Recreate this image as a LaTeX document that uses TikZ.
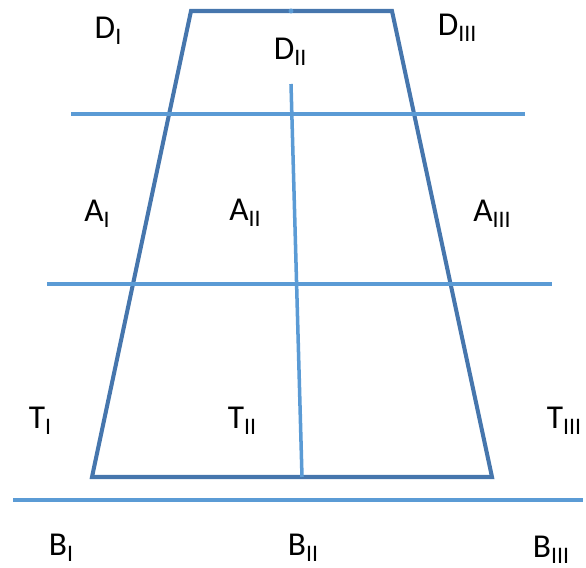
\documentclass[tikz,border=0pt]{standalone}
\usepackage{fontspec}
\setmainfont{Carlito}
\usetikzlibrary{positioning}
\definecolor{frameblue}{HTML}{4676AD}
\definecolor{lineblue}{HTML}{5B9BD5}
\newcommand{\zsub}[1]{\raisebox{-0.4ex}{\fontsize{13.5}{14}\selectfont #1}}
\tikzset{
  zone/.style={font=\fontsize{19}{20}\selectfont, inner sep=0pt},
  frame/.style={draw=frameblue, line width=2.3pt, line join=miter},
  cut/.style={draw=lineblue, line width=2pt}
}

\begin{document}
\begin{tikzpicture}[x=0.02cm, y=-0.02cm]
  \useasboundingbox (0,0) rectangle (586,568);

  % Trapez
  \coordinate (tl) at (191,11);
  \coordinate (tr) at (392,11);
  \coordinate (br) at (492,477);
  \coordinate (bl) at (92,477);
  \draw[frame] (tl) -- (tr) -- (br) -- (bl) -- cycle;

  % Schnittlinien
  \coordinate (h1l) at (71,114);  \coordinate (h1r) at (525,114);
  \coordinate (h2l) at (47,284);  \coordinate (h2r) at (552,284);
  \coordinate (h3l) at (13,500);  \coordinate (h3r) at (583,500);
  \coordinate (vt) at (291,84);   \coordinate (vb) at (302,477);
  \draw[cut] (h1l) -- (h1r);
  \draw[cut] (h2l) -- (h2r);
  \draw[cut] (h3l) -- (h3r);
  \draw[cut] (vt) -- (vb);
  \fill[lineblue] (291,11) circle (1.4pt);

  % Bezeichnungen
  \node[zone] (d1) at (108,31)  {D\zsub{I}};
  \node[zone] (d2) at (290,52)  {D\zsub{II}};
  \node[zone] (d3) at (457,28)  {D\zsub{III}};
  \node[zone] (a1) at (97,214)  {A\zsub{I}};
  \node[zone] (a2) at (245,213) {A\zsub{II}};
  \node[zone] (a3) at (492,214) {A\zsub{III}};
  \node[zone] (t1) at (40,421)  {T\zsub{I}};
  \node[zone] (t2) at (242,421) {T\zsub{II}};
  \node[zone] (t3) at (564,421) {T\zsub{III}};
  \node[zone] (b1) at (61,548)  {B\zsub{I}};
  \node[zone] (b2) at (303,548) {B\zsub{II}};
  \node[zone] (b3) at (551,550) {B\zsub{III}};
\end{tikzpicture}
\end{document}
